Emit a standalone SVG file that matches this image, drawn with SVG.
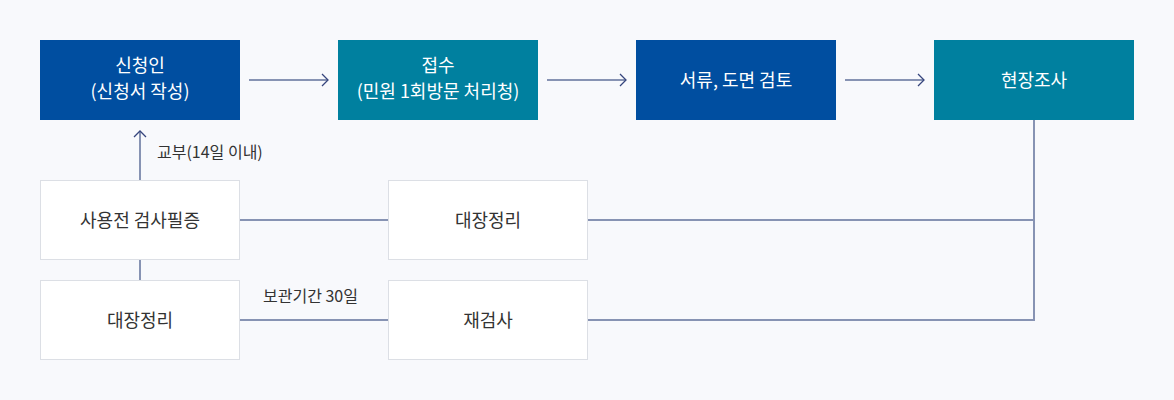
<svg xmlns="http://www.w3.org/2000/svg" width="1174" height="400" viewBox="0 0 1174 400">
<style>
text{font-family:"Noto Sans CJK KR","Noto Sans",sans-serif;font-size:18px;text-anchor:middle}
.dark{fill:#004ea0}
.teal{fill:#00809f}
.white{fill:#ffffff;stroke:#dcdfe5;stroke-width:1}
.wt{fill:#ffffff}
.bt{fill:#333333}
.lbl{fill:#333333;font-size:16px;text-anchor:start}
.ln{stroke:#8793b3;stroke-width:2;fill:none}
.ah{stroke:#36457d;stroke-width:1.3;fill:none}
</style>
<rect width="1174" height="400" fill="#f8f9fc"/>
<g id="connectors">
<line class="ln" x1="249" y1="80" x2="328" y2="80"/>
<polyline class="ah" points="322,74 328,80 322,86"/>
<line class="ln" x1="547" y1="80" x2="626" y2="80"/>
<polyline class="ah" points="620,74 626,80 620,86"/>
<line class="ln" x1="845" y1="80" x2="924" y2="80"/>
<polyline class="ah" points="918,74 924,80 918,86"/>
<line class="ln" x1="140" y1="180" x2="140" y2="131"/>
<polyline class="ah" points="134,137 140,131 146,137"/>
<line class="ln" x1="140" y1="260" x2="140" y2="280"/>
<line class="ln" x1="240" y1="220" x2="388" y2="220"/>
<line class="ln" x1="240" y1="320" x2="388" y2="320"/>
<polyline class="ln" points="588,220 1034,220"/>
<polyline class="ln" points="1034,120 1034,320 588,320"/>
<text class="lbl" x="157" y="158">교부(14일 이내)</text>
<text class="lbl" x="263" y="302">보관기간 30일</text>
</g>
<g id="n1"><rect class="dark" x="40" y="40" width="200" height="80"/><text class="wt" x="140" y="72">신청인</text><text class="wt" x="140" y="98">(신청서 작성)</text></g>
<g id="n2"><rect class="teal" x="338" y="40" width="200" height="80"/><text class="wt" x="438" y="72">접수</text><text class="wt" x="438" y="98">(민원 1회방문 처리청)</text></g>
<g id="n3"><rect class="dark" x="636" y="40" width="200" height="80"/><text class="wt" x="736" y="87">서류, 도면 검토</text></g>
<g id="n4"><rect class="teal" x="934" y="40" width="200" height="80"/><text class="wt" x="1034" y="87">현장조사</text></g>
<g id="n5"><rect class="white" x="40.5" y="180.5" width="199" height="79"/><text class="bt" x="140" y="227">사용전 검사필증</text></g>
<g id="n6"><rect class="white" x="388.5" y="180.5" width="199" height="79"/><text class="bt" x="488" y="227">대장정리</text></g>
<g id="n7"><rect class="white" x="40.5" y="280.5" width="199" height="79"/><text class="bt" x="140" y="327">대장정리</text></g>
<g id="n8"><rect class="white" x="388.5" y="280.5" width="199" height="79"/><text class="bt" x="488" y="327">재검사</text></g>
</svg>
